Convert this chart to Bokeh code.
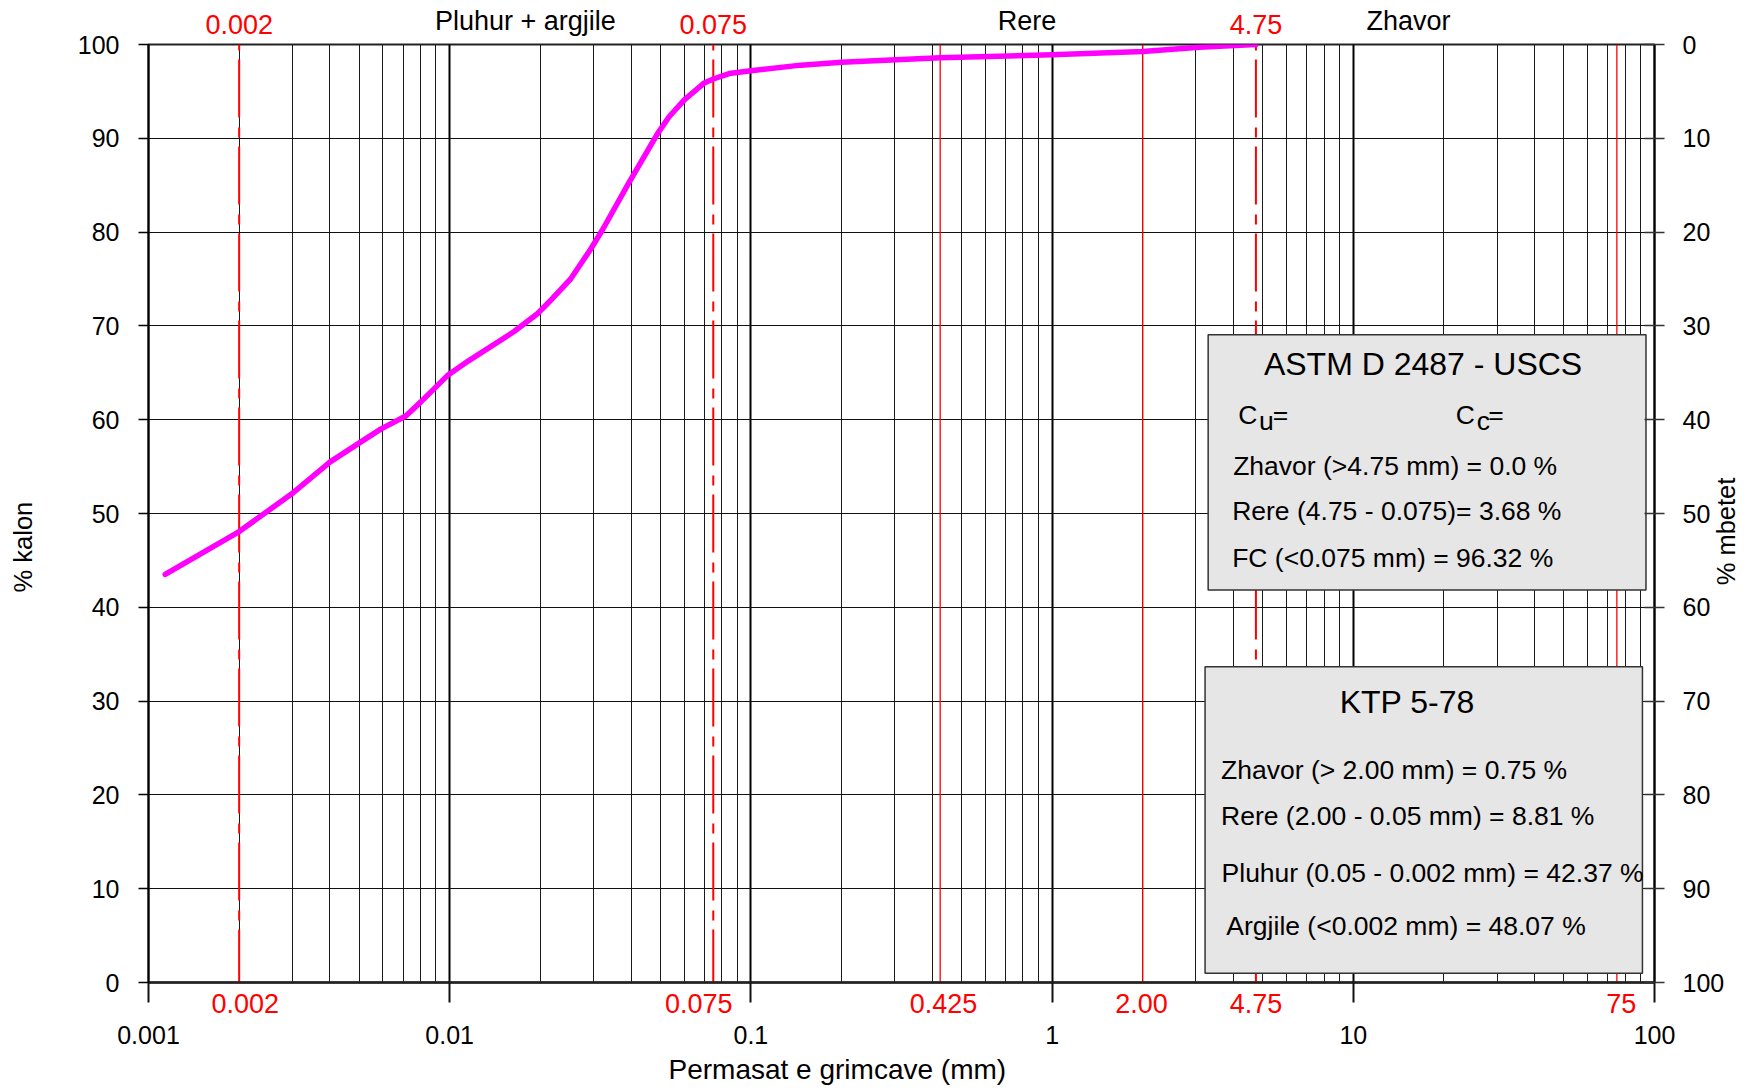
from bokeh.plotting import figure
from bokeh.models import FixedTicker, LinearAxis, LogAxis, Range1d, Label
from bokeh.embed import file_html
from bokeh.resources import INLINE
import math

FONT = "Liberation Sans"

# ---- data: grain-size distribution curve ----
size_mm = [0.001136, 0.002, 0.00299, 0.00401, 0.005, 0.0059, 0.00715, 0.00802,
           0.00982, 0.01158, 0.01636, 0.01955, 0.0219, 0.0252, 0.0294, 0.0321,
           0.0394, 0.0490, 0.0535, 0.0601, 0.0700, 0.075, 0.0847, 0.1, 0.1466,
           0.2, 0.425, 1.0, 2.0, 3.08, 4.75]
passing_pct = [43.5, 48.07, 52.1, 55.5, 57.5, 59.0, 60.4, 61.9,
               64.7, 66.3, 69.4, 71.3, 72.9, 75.0, 78.2, 80.2,
               85.3, 90.5, 92.3, 94.1, 95.9, 96.32, 96.9, 97.2, 97.8,
               98.1, 98.6, 98.9, 99.25, 99.7, 100.0]

# ---- axes ----
decades = [0.001, 0.01, 0.1, 1.0, 10.0, 100.0]
decade_labels = ["0.001", "0.01", "0.1", "1", "10", "100"]
pct_ticks = [0, 10, 20, 30, 40, 50, 60, 70, 80, 90, 100]
x_title = "Permasat e grimcave (mm)"
y_title_left = "% kalon"
y_title_right = "% mbetet"

# ---- classification boundaries ----
dashdot_bounds = [0.002, 0.075, 4.75]
solid_bounds = [0.425, 2.0, 75.0]
top_red_labels = ["0.002", "0.075", "4.75"]
bottom_red_x = [0.002, 0.075, 0.425, 2.0, 4.75, 75.0]
bottom_red_labels = ["0.002", "0.075", "0.425", "2.00", "4.75", "75"]
zone_names = ["Pluhur + argjile", "Rere", "Zhavor"]
zone_x = [0.01783, 0.8253, 15.24]

# ---- text boxes ----
astm_title = "ASTM D 2487 - USCS"
astm_lines = ["Zhavor (>4.75 mm) = 0.0 %",
              "Rere (4.75 - 0.075)= 3.68 %",
              "FC (<0.075 mm) = 96.32 %"]
ktp_title = "KTP 5-78"
ktp_lines = ["Zhavor  (> 2.00 mm) = 0.75 %",
             "Rere  (2.00 - 0.05 mm) = 8.81 %",
             "Pluhur (0.05 - 0.002 mm) = 42.37 %",
             "Argjile (<0.002 mm) = 48.07 %"]

# ---- layout-only constants ----
W, H = 1757, 1088
FL, FR, FT, FB = 148, 1654, 44, 982          # frame edges in canvas px
DEC_PX = (FR - FL) / 5.0                      # pixels per decade
astm_box = dict(left=3.297, right=93.7, top=69.05, bottom=41.84)
ktp_box = dict(left=3.22, right=91.2, top=33.65, bottom=0.99)
bottom_nudge_px = [6, -14.6, 3.3, -1.3, 0, 4.3]
x_title_at = 0.1936
y_title_left_at = 46.42
y_title_right_at = 42.34   # start of the rotated (left-anchored) text

p = figure(width=W, height=H, x_axis_type="log",
           x_range=Range1d(0.001, 100), y_range=Range1d(0, 100),
           output_backend="svg", toolbar_location=None,
           min_border_left=FL, min_border_right=W - FR,
           min_border_top=FT, min_border_bottom=H - FB,
           background_fill_color="white", border_fill_color="white")
p.outline_line_color = "#222222"
p.outline_line_width = 2


def text_axis(cls, ticks, labels, color, size, standoff, **kw):
    ax = cls(ticker=FixedTicker(ticks=ticks), **kw)
    ax.major_label_overrides = dict(zip(ticks, labels))
    ax.axis_line_color = None
    ax.major_tick_line_color = None
    ax.minor_tick_line_color = None
    ax.major_tick_out = 0
    ax.major_tick_in = 0
    ax.major_label_standoff = standoff
    ax.major_label_text_font = FONT
    ax.major_label_text_font_size = size
    ax.major_label_text_color = color
    return ax


# grid ticker: decades + 2..9 minor lines
minors = [m * d for d in decades[:-1] for m in range(2, 10)]
xt = FixedTicker(ticks=decades, minor_ticks=minors)

# primary bottom axis: axis line, decade tick marks (as minor ticks), red boundary labels
red_pos = [v * 10 ** (n / DEC_PX) for v, n in zip(bottom_red_x, bottom_nudge_px)]
xa = p.xaxis[0]
xa.ticker = FixedTicker(ticks=red_pos, minor_ticks=decades)
xa.major_label_overrides = dict(zip(red_pos, bottom_red_labels))
xa.major_tick_line_color = None
xa.major_tick_out = 0
xa.major_tick_in = 0
xa.minor_tick_out = 20
xa.minor_tick_in = 0
xa.minor_tick_line_width = 2
xa.minor_tick_line_color = "#111111"
xa.axis_line_width = 2.5
xa.axis_line_color = "#222222"
xa.major_label_standoff = -9
xa.major_label_text_font = FONT
xa.major_label_text_font_size = "27px"
xa.major_label_text_color = "#FF0000"

# decade labels and axis title below
p.add_layout(text_axis(LogAxis, decades, decade_labels, "black", "25px", 10), "below")
p.add_layout(text_axis(LogAxis, [x_title_at], [x_title], "black", "28px", 7), "below")

# top: red boundary labels, then zone names
p.add_layout(text_axis(LogAxis, dashdot_bounds, top_red_labels, "#FF0000", "27px", 11), "above")
p.add_layout(text_axis(LogAxis, zone_x, zone_names, "black", "27px", -24), "above")

# left axis (% passing)
yt = FixedTicker(ticks=pct_ticks)
ya = p.yaxis[0]
ya.ticker = yt
ya.major_tick_out = 10
ya.major_tick_in = 0
ya.major_tick_line_width = 1.5
ya.minor_tick_line_color = None
ya.axis_line_width = 2
ya.axis_line_color = "black"
ya.major_label_standoff = 19
ya.major_label_text_font = FONT
ya.major_label_text_font_size = "25px"
ya.major_label_text_color = "black"
lt = text_axis(LinearAxis, [y_title_left_at], [y_title_left], "black", "25.5px", 37)
lt.major_label_orientation = "vertical"
p.add_layout(lt, "left")

# right axis (% retained)
p.extra_y_ranges = {"rev": Range1d(100, 0)}
ax_r = LinearAxis(y_range_name="rev", ticker=FixedTicker(ticks=pct_ticks))
ax_r.major_tick_out = 10
ax_r.major_tick_in = 10
ax_r.major_tick_line_width = 1.5
ax_r.major_tick_line_color = "#333333"
ax_r.minor_tick_line_color = None
ax_r.axis_line_width = 2
ax_r.axis_line_color = "black"
ax_r.major_label_standoff = 18
ax_r.major_label_text_font = FONT
ax_r.major_label_text_font_size = "25px"
ax_r.major_label_text_color = "black"
p.add_layout(ax_r, "right")
rt = text_axis(LinearAxis, [y_title_right_at], [y_title_right], "black", "25.5px", -1)
rt.major_label_orientation = math.pi / 2
p.add_layout(rt, "right")

# grids
p.xgrid.ticker = xt
p.xgrid.grid_line_color = "black"
p.xgrid.grid_line_width = 2
p.xgrid.minor_grid_line_color = "#1a1a1a"
p.xgrid.minor_grid_line_width = 1
p.ygrid.ticker = yt
p.ygrid.grid_line_color = "#111111"
p.ygrid.grid_line_width = 1

# red boundary lines
p.segment(x0=dashdot_bounds, y0=[100] * 3, x1=dashdot_bounds, y1=[0] * 3,
          line_color="#FF0000", line_width=2, line_dash="58 10 10 9",
          line_dash_offset=72)
p.segment(x0=solid_bounds, y0=[100] * 3, x1=solid_bounds, y1=[0] * 3,
          line_color="#FF0000", line_width=1.3)

# info boxes
for b in (astm_box, ktp_box):
    p.quad(left=[b["left"]], right=[b["right"]], top=[b["top"]], bottom=[b["bottom"]],
           fill_color="#E6E6E6", line_color="#333333", line_width=1.5)

# gradation curve
p.line(size_mm, passing_pct, line_color="#FF00FF", line_width=5.5,
       line_join="round", line_cap="round")


def lab(text, x, y, size, align="left", xo=0, yo=0):
    p.add_layout(Label(x=x, y=y, text=text, text_font=FONT, text_font_size=size,
                       text_color="black", text_align=align, text_baseline="middle",
                       x_offset=xo, y_offset=yo))


# ASTM box texts
al = astm_box["left"]
lab(astm_title, al, 65.95, "32px", align="center", xo=214.9)
lab("C", al, 60.46, "26.5px", xo=30.2)
lab("u", al, 60.46, "26.5px", xo=50.8, yo=-6)
lab("=", al, 60.46, "26.5px", xo=64.6)
lab("C", al, 60.46, "26.5px", xo=247.7)
lab("c", al, 60.46, "26.5px", xo=268.7, yo=-6)
lab("=", al, 60.46, "26.5px", xo=280.0)
for t, y, xo in zip(astm_lines, [55.07, 50.27, 45.25], [25, 24, 24]):
    lab(t, al, y, "26.5px", xo=xo)

# KTP box texts
kl = ktp_box["left"]
lab(ktp_title, kl, 29.91, "32px", align="center", xo=202.2)
for t, y, xo in zip(ktp_lines, [22.63, 17.72, 11.69, 6.00], [16, 16, 16.5, 21.3]):
    lab(t, kl, y, "26.5px", xo=xo)

open("out.html", "w").write(file_html(p, INLINE))
